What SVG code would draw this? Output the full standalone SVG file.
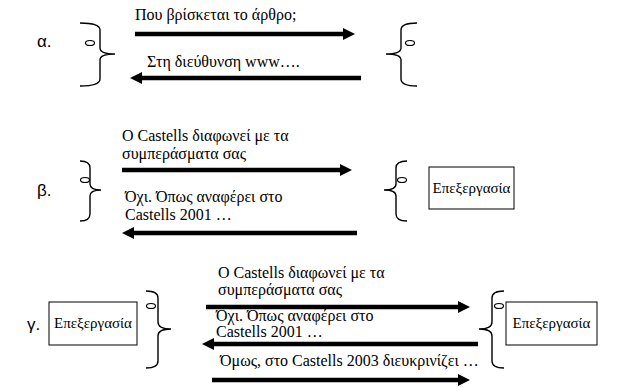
<svg xmlns="http://www.w3.org/2000/svg" width="622" height="388" viewBox="0 0 622 388">
<style>
.t{font-size:16px;fill:#000}
.bt{font-size:15px;fill:#000}
.lbl{font-family:"Liberation Sans",Arial,sans-serif;font-size:17px;fill:#000}
.br{fill:none;stroke:#000;stroke-width:1.4}
.el{fill:#fff;stroke:#000;stroke-width:1.2}
.ar{stroke:#000;stroke-width:4.5;fill:none;marker-end:url(#ah)}
.box{fill:#fff;stroke:#000;stroke-width:1}
</style>
<defs>
<marker id="ah" viewBox="0 0 12 12" refX="0" refY="6" markerWidth="12" markerHeight="12" markerUnits="userSpaceOnUse" orient="auto">
<path d="M0,0 L12,6 L0,12 z" fill="#000"/>
</marker>
</defs>
<rect width="622" height="388" fill="#fff"/>

<g id="labels">
<text class="lbl" x="37" y="47">α.</text>
<text class="lbl" x="37" y="196">β.</text>
<text class="lbl" x="27" y="330">γ.</text>
</g>

<g id="a-left">
<path class="br" d="M80,23 Q100,23 100,30 L100,48 Q100,54 115,54 Q100,54 100,60 L100,79 Q100,86 80,86"/>
<ellipse class="el" cx="90" cy="43" rx="4.5" ry="2.5"/>
</g>
<g id="a-right">
<path class="br" d="M417,23 Q401,23 401,30 L401,48 Q401,54 386,54 Q401,54 401,60 L401,79 Q401,86 417,86"/>
<ellipse class="el" cx="410" cy="43" rx="4.5" ry="2.5"/>
</g>

<g id="b-left">
<path class="br" d="M80,161 Q90,161 90,168 L90,184 Q90,190 101,190 Q90,190 90,196 L90,214 Q90,221 80,221"/>
<ellipse class="el" cx="85" cy="180" rx="4.5" ry="2.5"/>
</g>
<g id="b-right">
<path class="br" d="M407,161 Q396,161 396,168 L396,184 Q396,190 384,190 Q396,190 396,196 L396,214 Q396,221 407,221"/>
<ellipse class="el" cx="402" cy="180" rx="4.5" ry="2.5"/>
</g>
<g id="b-box" font-family="Liberation Serif, Times New Roman, serif">
<rect class="box" x="429" y="167" width="85" height="42"/>
<text class="bt" x="471.5" y="193" text-anchor="middle">Επεξεργασία</text>
</g>

<g id="c-leftbox" font-family="Liberation Serif, Times New Roman, serif">
<rect class="box" x="49" y="302" width="88" height="43"/>
<text class="bt" x="93" y="328" text-anchor="middle">Επεξεργασία</text>
</g>
<g id="c-left">
<path class="br" d="M146,291 Q158,291 158,298 L158,322 Q158,329 171,329 Q158,329 158,336 L158,361 Q158,368 146,368"/>
<ellipse class="el" cx="151" cy="306" rx="4.5" ry="2.5"/>
</g>
<g id="c-right">
<path class="br" d="M504,291 Q492,291 492,298 L492,322 Q492,329 479,329 Q492,329 492,336 L492,361 Q492,368 504,368"/>
<ellipse class="el" cx="499" cy="306" rx="4.5" ry="2.5"/>
</g>
<g id="c-rightbox" font-family="Liberation Serif, Times New Roman, serif">
<rect class="box" x="506" y="302" width="91" height="43"/>
<text class="bt" x="551.5" y="328" text-anchor="middle">Επεξεργασία</text>
</g>

<g id="connectors">
<line class="ar" x1="135" y1="34" x2="343" y2="34"/>
<line class="ar" x1="361" y1="78" x2="142" y2="78"/>
<line class="ar" x1="122" y1="170" x2="340" y2="170"/>
<line class="ar" x1="357" y1="233" x2="134" y2="233"/>
<line class="ar" x1="206" y1="307" x2="458" y2="307"/>
<line class="ar" x1="478" y1="344" x2="214" y2="344"/>
<line class="ar" x1="212" y1="380" x2="458" y2="380"/>
</g>

<g id="edge-labels" font-family="Liberation Serif, Times New Roman, serif">
<text class="t" x="135" y="20">Που βρίσκεται το άρθρο;</text>
<text class="t" x="147" y="67">Στη διεύθυνση www….</text>
<text class="t" x="122" y="141">Ο Castells διαφωνεί με τα</text>
<text class="t" x="122" y="159">συμπεράσματα σας</text>
<text class="t" x="125" y="202">Όχι. Όπως αναφέρει στο</text>
<text class="t" x="125" y="220">Castells 2001 …</text>
<text class="t" x="218" y="278">Ο Castells διαφωνεί με τα</text>
<text class="t" x="218" y="295">συμπεράσματα σας</text>
<text class="t" x="216" y="321">Όχι. Όπως αναφέρει στο</text>
<text class="t" x="216" y="337">Castells 2001 …</text>
<text class="t" x="220" y="366">Όμως, στο Castells 2003 διευκρινίζει …</text>
</g>
</svg>
